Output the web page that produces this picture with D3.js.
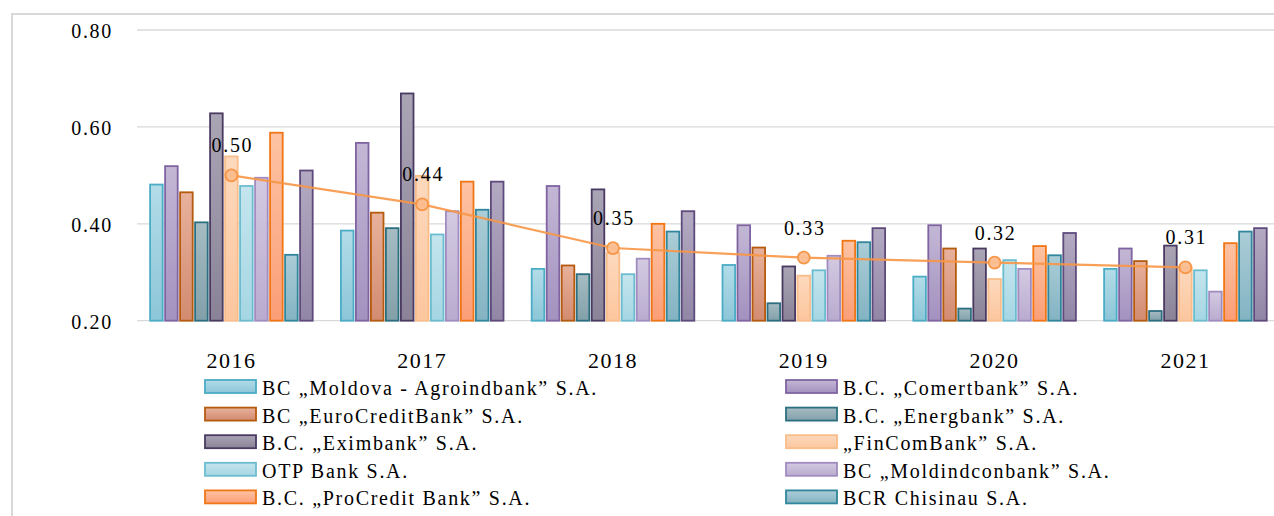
<!DOCTYPE html>
<html>
<head>
<meta charset="utf-8">
<script src="https://cdn.jsdelivr.net/npm/d3@7"></script>
<style>
  html, body { margin: 0; padding: 0; background: #ffffff; }
  svg { display: block; }
  svg text { font-family: "Liberation Serif", "DejaVu Serif", serif; }
</style>
</head>
<body>
<svg id="chart" width="1274" height="516"></svg>
<script>
// ---- data ----
const years = ["2016", "2017", "2018", "2019", "2020", "2021"];
const seriesNames = [
  "BC „Moldova - Agroindbank” S.A.",
  "B.C. „Comertbank” S.A.",
  "BC „EuroCreditBank” S.A.",
  "B.C. „Energbank” S.A.",
  "B.C. „Eximbank” S.A.",
  "„FinComBank” S.A.",
  "OTP Bank S.A.",
  "BC „Moldindconbank” S.A.",
  "B.C. „ProCredit Bank” S.A.",
  "BCR Chisinau S.A.",
  "B.C. „Victoriabank” S.A."
];
const agroindbank   = [0.481, 0.386, 0.307, 0.315, 0.291, 0.307];
const comertbank    = [0.519, 0.567, 0.478, 0.397, 0.397, 0.349];
const eurocredit    = [0.465, 0.423, 0.314, 0.351, 0.349, 0.323];
const energbank     = [0.403, 0.391, 0.296, 0.236, 0.225, 0.220];
const eximbank      = [0.628, 0.669, 0.471, 0.312, 0.349, 0.355];
const fincombank    = [0.539, 0.499, 0.340, 0.293, 0.286, 0.310];
const otpbank       = [0.478, 0.378, 0.296, 0.304, 0.325, 0.304];
const moldindcon    = [0.495, 0.426, 0.328, 0.334, 0.307, 0.260];
const procredit     = [0.588, 0.487, 0.400, 0.365, 0.354, 0.360];
const bcr           = [0.336, 0.429, 0.384, 0.362, 0.335, 0.384];
const victoriabank  = [0.510, 0.487, 0.426, 0.391, 0.381, 0.391];
const averageValues = [0.50, 0.44, 0.35, 0.33, 0.32, 0.31];
const averageLabels = ["0.50", "0.44", "0.35", "0.33", "0.32", "0.31"];
const yTicks = [0.20, 0.40, 0.60, 0.80];

const seriesValues = [agroindbank, comertbank, eurocredit, energbank, eximbank,
  fincombank, otpbank, moldindcon, procredit, bcr, victoriabank];

// styles (stroke, gradient top, gradient bottom)
const styles = [
  { stroke: "#4bacc6", top: "#b3dce8", bottom: "#8cc6d8" },
  { stroke: "#8064a2", top: "#c3b7d5", bottom: "#a391bf" },
  { stroke: "#b65a0e", top: "#e8b19c", bottom: "#d28b70" },
  { stroke: "#2c6f80", top: "#a6bcc3", bottom: "#82a0a9" },
  { stroke: "#4a3a62", top: "#aaa5b5", bottom: "#8a8398" },
  { stroke: "#f9bd8a", top: "#fdd9bd", bottom: "#fcc69e" },
  { stroke: "#6cbcd0", top: "#c4e5ed", bottom: "#a5d6e3" },
  { stroke: "#a08cc0", top: "#d4cae2", bottom: "#b9abcf" },
  { stroke: "#f07616", top: "#fdc3a3", bottom: "#fb9e77" },
  { stroke: "#31859c", top: "#abcdd7", bottom: "#83b3c2" },
  { stroke: "#5e4a7c", top: "#b3aac2", bottom: "#9286a6" }
];

const FONT = "'Liberation Serif', 'DejaVu Serif', serif";
const svg = d3.select("#chart");
const W = 1274, H = 516;
svg.append("rect").attr("x", 0).attr("y", 0).attr("width", W).attr("height", H).attr("fill", "#ffffff");

// frame
svg.append("rect").attr("x", 12).attr("y", 14).attr("width", W + 20).attr("height", H + 20)
  .attr("fill", "none").attr("stroke", "#d9d9d9").attr("stroke-width", 2);

const defs = svg.append("defs");
styles.forEach((s, i) => {
  const g = defs.append("linearGradient").attr("id", "grad" + i)
    .attr("x1", 0).attr("y1", 0).attr("x2", 0).attr("y2", 1);
  g.append("stop").attr("offset", "0%").attr("stop-color", s.top);
  g.append("stop").attr("offset", "100%").attr("stop-color", s.bottom);
});

const y = d3.scaleLinear().domain([0.2, 0.8]).range([320.7, 30]);
const x0 = d3.scaleBand().domain(years).range([136, 136 + 6 * 190.8]).paddingInner(0).paddingOuter(0);
const x1 = d3.scaleBand().domain(d3.range(seriesNames.length)).range([-82.5, 82.5]).padding(0);

// gridlines
svg.append("g").selectAll("line").data(yTicks).join("line")
  .attr("x1", 137).attr("x2", W)
  .attr("y1", d => y(d)).attr("y2", d => y(d))
  .attr("stroke", "#d9d9d9").attr("stroke-width", 1.3);

// y tick labels
svg.append("g").selectAll("text").data(yTicks).join("text")
  .attr("x", 113).attr("y", d => y(d) + 8)
  .attr("text-anchor", "end")
  .attr("font-family", FONT)
  .attr("font-size", 20).attr("letter-spacing", 1.7)
  .attr("fill", "#000")
  .text(d => d3.format(".2f")(d));

// bars
const groups = svg.append("g").selectAll("g").data(years).join("g")
  .attr("transform", d => `translate(${x0(d) + x0.bandwidth() / 2},0)`);
groups.selectAll("rect").data((yr, yi) => seriesValues.map((vals, si) => ({ si, v: vals[yi] })))
  .join("rect")
  .attr("x", d => x1(d.si) + 1.2)
  .attr("width", x1.bandwidth() - 2.4)
  .attr("y", d => y(d.v))
  .attr("height", d => y(0.2) - y(d.v))
  .attr("fill", d => `url(#grad${d.si})`)
  .attr("stroke", d => styles[d.si].stroke)
  .attr("stroke-width", 1.8);

// average line
const cx = yr => x0(yr) + x0.bandwidth() / 2;
const line = d3.line().x((d, i) => cx(years[i])).y(d => y(d));
svg.append("path").datum(averageValues)
  .attr("d", line)
  .attr("fill", "none")
  .attr("stroke", "#f79646").attr("stroke-opacity", 0.9)
  .attr("stroke-width", 2.2);
svg.append("g").selectAll("circle").data(averageValues).join("circle")
  .attr("cx", (d, i) => cx(years[i])).attr("cy", d => y(d))
  .attr("r", 6)
  .attr("fill", "#fbbd8f").attr("fill-opacity", 0.95)
  .attr("stroke", "#f79646").attr("stroke-width", 1.8);
svg.append("g").selectAll("text").data(averageValues).join("text")
  .attr("x", (d, i) => cx(years[i]) + 1).attr("y", d => y(d) - 23)
  .attr("text-anchor", "middle")
  .attr("font-family", FONT)
  .attr("font-size", 20).attr("letter-spacing", 1.7)
  .attr("fill", "#000")
  .text((d, i) => averageLabels[i]);

// x labels
svg.append("g").selectAll("text").data(years).join("text")
  .attr("x", d => cx(d)).attr("y", 368)
  .attr("text-anchor", "middle")
  .attr("font-family", FONT)
  .attr("font-size", 22).attr("letter-spacing", 1.5)
  .attr("fill", "#000")
  .text(d => d);

// legend (only the first 10 entries fit inside the visible area)
const legendItems = seriesNames.slice(0, 10).map((name, i) => ({ name, i }));
const leg = svg.append("g").selectAll("g").data(legendItems).join("g")
  .attr("transform", d => {
    const col = d.i % 2, row = Math.floor(d.i / 2);
    return `translate(${col === 0 ? 205 : 786},${380 + row * 27.6})`;
  });
leg.append("rect").attr("x", 0).attr("y", 0).attr("width", 51).attr("height", 13)
  .attr("fill", d => `url(#grad${d.i})`)
  .attr("stroke", d => styles[d.i].stroke).attr("stroke-width", 1.8);
leg.append("text").attr("x", 57).attr("y", 15)
  .attr("font-family", FONT)
  .attr("font-size", 20).attr("letter-spacing", 1.7)
  .attr("fill", "#000")
  .text(d => d.name);
</script>
</body>
</html>
